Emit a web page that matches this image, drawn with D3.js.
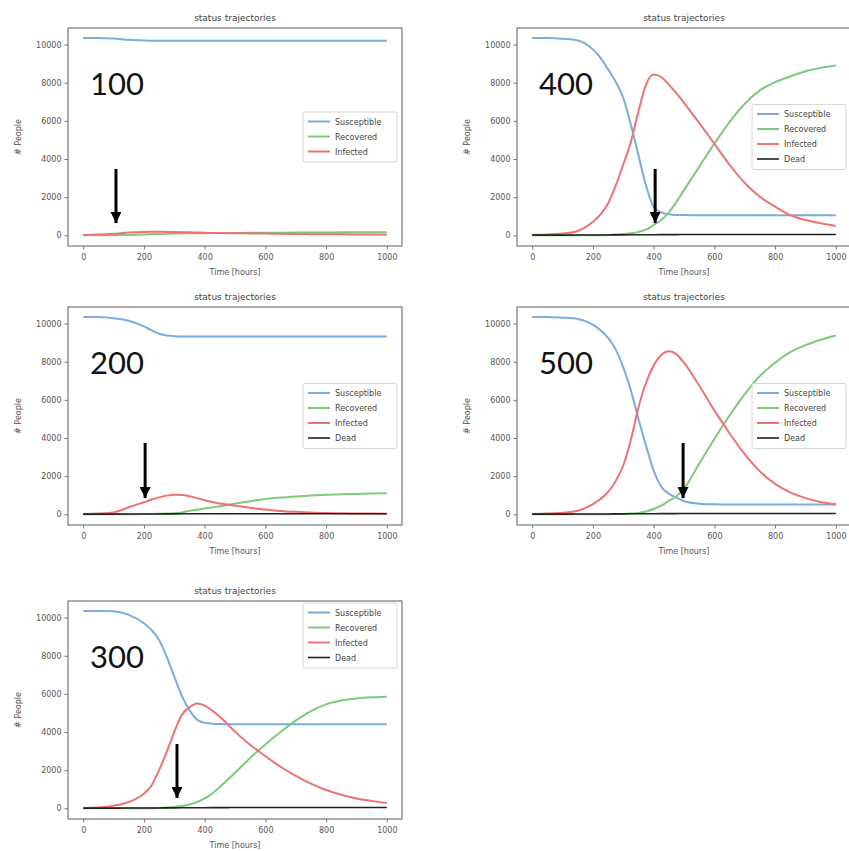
<!DOCTYPE html>
<html>
<head>
<meta charset="utf-8">
<script src="https://cdn.jsdelivr.net/npm/d3@7"></script>
<style>
  body { margin: 0; background: #fff; }
  svg { display: block; }
  .tick text { font-family: "DejaVu Sans", sans-serif; font-size: 8px; fill: #555; }
  .tick line { stroke: #777; }
</style>
</head>
<body>
<div id="chart"></div>
<script>
// time grid shared by every panel (hours)
const hours = [0, 50, 100, 150, 200, 225, 250, 275, 300, 325, 350, 375, 400, 425, 450, 475, 500,
               550, 600, 650, 700, 750, 800, 850, 900, 950, 1000];

// panel "100"
const susceptible100 = [10350, 10350, 10320, 10250, 10215, 10205, 10200, 10200, 10200, 10200, 10200, 10200, 10200, 10200,
                        10200, 10200, 10200, 10200, 10200, 10200, 10200, 10200, 10200, 10200, 10200, 10200, 10200];
const recovered100 = [0, 0, 5, 20, 45, 60, 70, 80, 95, 100, 105, 110, 115, 118, 120, 122, 125, 130, 135, 140, 145, 150, 150, 155, 155, 158, 160];
const infected100 = [20, 40, 80, 150, 180, 185, 185, 180, 175, 165, 155, 145, 135, 125, 120, 115, 105, 100, 90, 80, 70, 60, 55, 50, 45, 40, 35];

// panel "200"
const susceptible200 = [10350, 10340, 10280, 10150, 9850, 9650, 9470, 9380, 9340, 9320, 9320, 9320, 9320, 9320,
                        9320, 9320, 9320, 9320, 9320, 9320, 9320, 9320, 9320, 9320, 9320, 9320, 9320];
const recovered200 = [0, 0, 0, 5, 15, 20, 30, 40, 60, 100, 180, 240, 300, 360, 420, 490, 560, 690, 800, 880, 940, 990, 1020, 1050, 1070, 1090, 1100];
const infected200 = [20, 40, 100, 370, 630, 780, 890, 980, 1020, 1010, 950, 850, 740, 650, 570, 510, 460, 350, 250, 180, 130, 90, 70, 55, 45, 40, 35];
const dead200 = [10, 10, 12, 14, 16, 18, 20, 22, 24, 26, 28, 30, 30, 30, 30, 30, 30, 30, 30, 30, 30, 30, 30, 30, 30, 30, 30];

// panel "300"
const susceptible300 = [10350, 10350, 10330, 10140, 9700, 9350, 8830, 7950, 6900, 5900, 5150, 4650, 4480, 4440,
                        4420, 4410, 4410, 4410, 4410, 4410, 4410, 4410, 4410, 4410, 4410, 4410, 4410];
const recovered300 = [0, 0, 0, 0, 5, 10, 20, 40, 70, 120, 200, 330, 520, 780, 1120, 1480, 1860, 2640, 3350, 4000, 4600, 5100, 5450, 5650, 5760, 5820, 5850];
const infected300 = [20, 40, 140, 330, 770, 1200, 2000, 2950, 4000, 4900, 5300, 5500, 5380, 5130, 4800, 4420, 4020, 3330, 2730, 2180, 1700, 1290, 960, 710, 520, 390, 280];
const dead300 = [10, 10, 12, 14, 16, 18, 20, 22, 24, 26, 28, 30, 32, 34, 36, 38, 40, 40, 40, 40, 40, 40, 40, 40, 40, 40, 40];

// panel "400"
const susceptible400 = [10350, 10340, 10300, 10220, 9750, 9300, 8700, 8050, 7200, 5800, 4200, 2600, 1500, 1200,
                        1110, 1070, 1060, 1050, 1050, 1050, 1050, 1050, 1050, 1050, 1050, 1050, 1050];
const recovered400 = [0, 0, 0, 0, 5, 10, 20, 40, 70, 110, 180, 300, 540, 800, 1200, 1750, 2370, 3590, 4810, 5940, 6900, 7600, 8030, 8330, 8600, 8780, 8900];
const infected400 = [30, 45, 90, 230, 710, 1100, 1670, 2600, 3700, 4900, 6500, 7900, 8430, 8300, 7900, 7450, 6950, 5900, 4800, 3700, 2740, 2020, 1500, 1060, 800, 630, 490];
const dead400 = [10, 10, 12, 14, 16, 18, 20, 22, 24, 26, 28, 30, 32, 34, 36, 38, 40, 40, 40, 40, 40, 40, 40, 40, 40, 40, 40];

// panel "500"
const susceptible500 = [10350, 10340, 10310, 10240, 9950, 9650, 9250, 8650, 7700, 6500, 5000, 3600, 2300, 1450,
                        1080, 880, 700, 560, 530, 520, 520, 520, 520, 520, 520, 520, 520];
const recovered500 = [0, 0, 0, 0, 0, 5, 10, 15, 20, 40, 70, 150, 280, 450, 700, 950, 1350, 2650, 3950, 5180, 6300, 7250, 7950, 8500, 8870, 9150, 9380];
const infected500 = [20, 40, 80, 190, 540, 800, 1160, 1750, 2560, 3900, 5600, 6900, 7800, 8350, 8550, 8400, 7950, 6750, 5450, 4250, 3150, 2250, 1600, 1150, 850, 650, 530];
const dead500 = [10, 10, 12, 14, 16, 18, 20, 22, 24, 26, 28, 30, 32, 34, 36, 38, 40, 40, 40, 40, 40, 40, 40, 40, 40, 40, 40];

const panelLabels = ["100", "400", "200", "500", "300"];
const xTicks = [0, 200, 400, 600, 800, 1000];
const yTicks = [0, 2000, 4000, 6000, 8000, 10000];

// hand drawn arrows: hour, tail value, tip value
const arrowHours = [108, 405, 204, 497, 309];
const arrowTail = [3480, 3480, 3740, 3740, 3370];
const arrowTip = [640, 640, 850, 850, 540];

const colors = {
    Susceptible: "#7aadd9",
    Recovered: "#7cca7c",
    Infected: "#ee7272",
    Dead: "#222222"
};

const panels = [
    {series: {Susceptible: susceptible100, Recovered: recovered100, Infected: infected100}, col: 0, row: 0, legend: "center"},
    {series: {Susceptible: susceptible400, Recovered: recovered400, Infected: infected400, Dead: dead400}, col: 1, row: 0, legend: "center"},
    {series: {Susceptible: susceptible200, Recovered: recovered200, Infected: infected200, Dead: dead200}, col: 0, row: 1, legend: "center"},
    {series: {Susceptible: susceptible500, Recovered: recovered500, Infected: infected500, Dead: dead500}, col: 1, row: 1, legend: "center"},
    {series: {Susceptible: susceptible300, Recovered: recovered300, Infected: infected300, Dead: dead300}, col: 0, row: 2, legend: "upper"}
];

const W = 849, H = 851;
const colX = [68, 517];
const rowY = [28, 307, 601];
const pw = 334, ph = 218;

const svg = d3.select('#chart').append('svg')
    .attr('width', W)
    .attr('height', H);

svg.append('defs').append('marker')
    .attr('id', 'head')
    .attr('viewBox', '0 0 10 10')
    .attr('refX', 10).attr('refY', 5)
    .attr('markerUnits', 'userSpaceOnUse')
    .attr('markerWidth', 12).attr('markerHeight', 11)
    .attr('orient', 'auto')
  .append('path')
    .attr('d', 'M0,0 L10,5 L0,10 Z')
    .attr('fill', '#000');

const xScale = d3.scaleLinear().domain([-50, 1050]).range([0, pw]);
const yScale = d3.scaleLinear().domain([-560, 10870]).range([ph, 0]);

panels.forEach((p, i) => {
    const g = svg.append('g')
        .attr('transform', 'translate(' + colX[p.col] + ',' + rowY[p.row] + ')');

    // axes
    g.append('g')
        .attr('transform', 'translate(0,' + ph + ')')
        .call(d3.axisBottom(xScale).tickValues(xTicks).tickSize(3.5).tickPadding(5).tickFormat(d3.format('d')))
        .call(a => a.select('.domain').remove());

    g.append('g')
        .call(d3.axisLeft(yScale).tickValues(yTicks).tickSize(3.5).tickPadding(3).tickFormat(d3.format('d')))
        .call(a => a.select('.domain').remove());

    // lines
    Object.keys(p.series).forEach(name => {
        const vals = p.series[name];
        const line = d3.line()
            .x((d, j) => xScale(hours[j]))
            .y(d => yScale(d))
            .curve(d3.curveMonotoneX);
        g.append('path')
            .datum(vals)
            .attr('d', line)
            .attr('fill', 'none')
            .attr('stroke', colors[name])
            .attr('stroke-width', name === 'Dead' ? 1.6 : 2);
    });

    // frame
    g.append('rect')
        .attr('width', pw).attr('height', ph)
        .attr('fill', 'none')
        .attr('stroke', '#777')
        .attr('stroke-width', 1.2);

    // title and axis labels
    g.append('text')
        .attr('x', pw / 2).attr('y', -7)
        .attr('text-anchor', 'middle')
        .style('font-family', 'DejaVu Sans, sans-serif')
        .style('font-size', '9px')
        .style('fill', '#444')
        .text('status trajectories');

    g.append('text')
        .attr('x', pw / 2).attr('y', ph + 29)
        .attr('text-anchor', 'middle')
        .style('font-family', 'DejaVu Sans, sans-serif')
        .style('font-size', '8px')
        .style('fill', '#555')
        .text('Time [hours]');

    g.append('text')
        .attr('transform', 'translate(-47,' + (ph / 2) + ') rotate(-90)')
        .attr('text-anchor', 'middle')
        .style('font-family', 'DejaVu Sans, sans-serif')
        .style('font-size', '8px')
        .style('fill', '#555')
        .text('# People');

    // legend
    const names = Object.keys(p.series);
    const lh = names.length * 15 + 5;
    const lw = 94;
    const ly = p.legend === 'upper' ? 2 : (ph - lh) / 2;
    const lg = g.append('g').attr('transform', 'translate(' + (pw - lw - 5) + ',' + ly + ')');
    lg.append('rect')
        .attr('width', lw).attr('height', lh)
        .attr('rx', 2)
        .attr('fill', '#fff').attr('fill-opacity', 0.85)
        .attr('stroke', '#d6d6d6');
    names.forEach((name, k) => {
        const yy = 9.5 + k * 15;
        lg.append('line')
            .attr('x1', 5).attr('x2', 27)
            .attr('y1', yy).attr('y2', yy)
            .attr('stroke', colors[name])
            .attr('stroke-width', name === 'Dead' ? 1.6 : 2);
        lg.append('text')
            .attr('x', 32).attr('y', yy + 3)
            .style('font-family', 'DejaVu Sans, sans-serif')
            .style('font-size', '8px')
            .style('fill', '#444')
            .text(name);
    });

    // big label
    g.append('text')
        .attr('x', 22).attr('y', 67)
        .style('font-family', 'Lato, sans-serif')
        .style('font-size', '31px')
        .style('fill', '#111')
        .text(panelLabels[i]);

    // arrow
    g.append('line')
        .attr('x1', xScale(arrowHours[i])).attr('x2', xScale(arrowHours[i]))
        .attr('y1', yScale(arrowTail[i])).attr('y2', yScale(arrowTip[i]))
        .attr('stroke', '#000')
        .attr('stroke-width', 3)
        .attr('marker-end', 'url(#head)');
});
</script>
</body>
</html>
